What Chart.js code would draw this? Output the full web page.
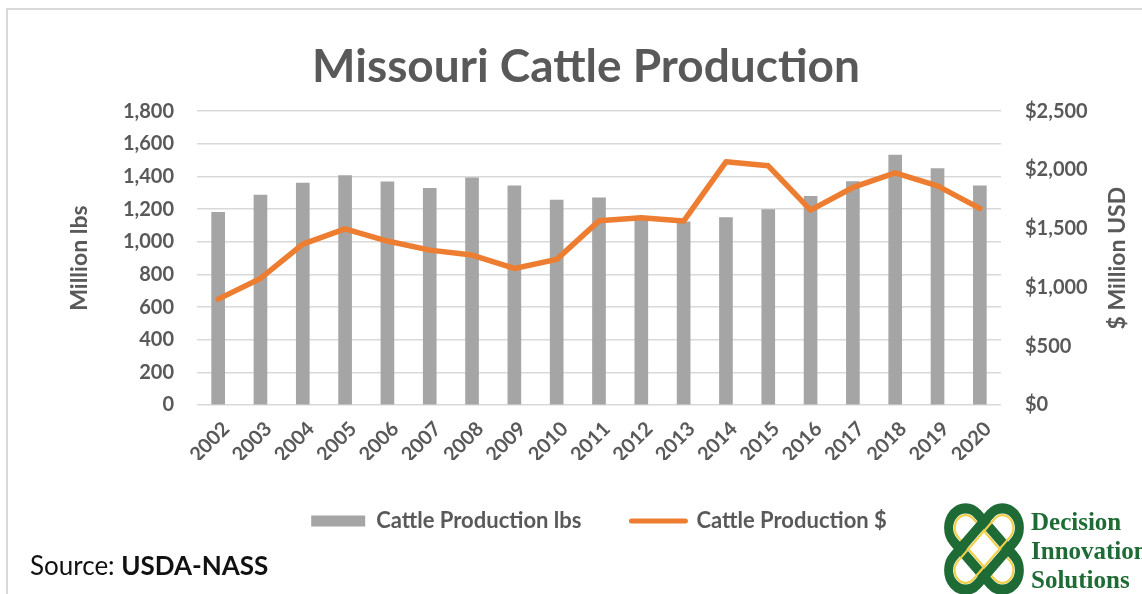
<!DOCTYPE html>
<html>
<head>
<meta charset="utf-8">
<title>Missouri Cattle Production</title>
<script src="https://cdn.jsdelivr.net/npm/chart.js@4.4.1/dist/chart.umd.min.js"></script>
<style>
    html, body { margin: 0; padding: 0; background: #fff; }
    #wrap { position: relative; width: 1142px; height: 594px; overflow: hidden; }
    #frame { position: absolute; left: 6px; top: 8px; right: -10px; bottom: -10px;
             border-left: 2px solid #d9d9d9; border-top: 2px solid #d9d9d9; }
    canvas { position: absolute; left: 0; top: 0; }
</style>
</head>
<body>
<div id="wrap">
    <div id="frame"></div>
    <canvas id="cattleChart" width="1142" height="594"></canvas>
</div>
<script>
// Chart data
const years = ['2002', '2003', '2004', '2005', '2006', '2007', '2008', '2009', '2010', '2011',
               '2012', '2013', '2014', '2015', '2016', '2017', '2018', '2019', '2020'];
const cattleLbs = [1180, 1286, 1359, 1406, 1367, 1327, 1392, 1343, 1255, 1269,
                   1151, 1122, 1149, 1198, 1278, 1369, 1531, 1449, 1343];
const cattleUsd = [901, 1077, 1369, 1499, 1395, 1318, 1276, 1162, 1239, 1567,
                   1593, 1565, 2069, 2035, 1658, 1851, 1976, 1865, 1673];
const lbsTicks = [0, 200, 400, 600, 800, 1000, 1200, 1400, 1600, 1800];
const usdTicks = [0, 500, 1000, 1500, 2000, 2500];

const textGray = '#595959';
const fontFamily = 'Lato, "Open Sans", sans-serif';

function withCommas(v) {
    return String(v).replace(/\B(?=(\d{3})+(?!\d))/g, ',');
}

// Right axis title (reads bottom to top), source note and logo
const extrasPlugin = {
    id: 'extras',
    afterDraw(chart) {
        const ctx = chart.ctx;
        const area = chart.chartArea;

        ctx.save();
        ctx.translate(1118, (area.top + area.bottom) / 2);
        ctx.rotate(-Math.PI / 2);
        ctx.font = 'bold 23px ' + fontFamily;
        ctx.fillStyle = textGray;
        ctx.textAlign = 'center';
        ctx.textBaseline = 'middle';
        ctx.fillText('$ Million USD', 0, 0);
        ctx.restore();

        // Source line
        ctx.save();
        ctx.textBaseline = 'alphabetic';
        ctx.fillStyle = '#111';
        ctx.font = '26px ' + fontFamily;
        const lead = 'Source: ';
        ctx.fillText(lead, 30, 575);
        const w = ctx.measureText(lead).width;
        ctx.font = 'bold 26px ' + fontFamily;
        ctx.fillText('USDA-NASS', 30 + w, 575);
        ctx.restore();

        // Logo knot
        ctx.save();
        ctx.translate(984, 549);
        ctx.scale(1, 1.15);
        [Math.PI / 4, -Math.PI / 4].forEach(angle => {
            ctx.save();
            ctx.rotate(angle);
            ctx.strokeStyle = '#1e6b35';
            ctx.lineWidth = 9;
            ctx.beginPath();
            ctx.roundRect(-43, -17, 86, 34, 17);
            ctx.stroke();
            ctx.strokeStyle = '#f0cf4a';
            ctx.lineWidth = 2;
            ctx.beginPath();
            ctx.roundRect(-37, -11, 74, 22, 11);
            ctx.stroke();
            ctx.restore();
        });
        ctx.restore();

        ctx.save();
        ctx.fillStyle = '#1e6b35';
        ctx.font = 'bold 25px "Liberation Serif", "DejaVu Serif", serif';
        ctx.textBaseline = 'alphabetic';
        ctx.fillText('Decision', 1031, 530);
        ctx.fillText('Innovation', 1031, 559);
        ctx.fillText('Solutions', 1031, 588);
        ctx.restore();
    }
};

const ctx = document.getElementById('cattleChart');
new Chart(ctx, {
    data: {
        labels: years,
        datasets: [{
            type: 'bar',
            label: 'Cattle Production lbs',
            data: cattleLbs,
            yAxisID: 'yLbs',
            backgroundColor: '#a5a5a5',
            barThickness: 13,
            order: 2
        }, {
            type: 'line',
            label: 'Cattle Production $',
            data: cattleUsd,
            yAxisID: 'yUsd',
            borderColor: '#ed7d31',
            backgroundColor: '#ed7d31',
            borderWidth: 5.5,
            borderCapStyle: 'round',
            borderJoinStyle: 'round',
            pointRadius: 0,
            tension: 0,
            order: 1
        }]
    },
    options: {
        responsive: false,
        animation: false,
        devicePixelRatio: 1,
        layout: {
            padding: { left: 30, right: 0, top: 0, bottom: 52 }
        },
        plugins: {
            title: {
                display: true,
                text: 'Missouri Cattle Production',
                color: textGray,
                font: { family: fontFamily, size: 46, weight: 'bold', lineHeight: 1.2 },
                padding: { top: 40, bottom: 16 }
            },
            legend: {
                position: 'bottom',
                fullSize: false,
                labels: {
                    usePointStyle: true,
                    pointStyleWidth: 54,
                    boxHeight: 11,
                    padding: 50,
                    color: textGray,
                    font: { family: fontFamily, size: 22, weight: 'bold' },
                    sort: (a, b) => a.datasetIndex - b.datasetIndex,
                    generateLabels: chart => chart.data.datasets.map((ds, i) => ({
                        text: ds.label,
                        datasetIndex: i,
                        fillStyle: ds.backgroundColor,
                        strokeStyle: ds.type === 'line' ? ds.borderColor : ds.backgroundColor,
                        lineWidth: ds.type === 'line' ? 5 : 0,
                        lineCap: 'round',
                        pointStyle: ds.type === 'line' ? 'line' : 'rect',
                        fontColor: textGray,
                        hidden: false
                    }))
                }
            },
            tooltip: { enabled: false }
        },
        scales: {
            x: {
                grid: { display: false },
                border: { display: false },
                ticks: {
                    color: textGray,
                    font: { family: fontFamily, size: 20, weight: 'bold' },
                    minRotation: 45,
                    maxRotation: 45,
                    labelOffset: 8,
                    padding: 4
                },
                afterFit: scale => { scale.height = 55; }
            },
            yLbs: {
                position: 'left',
                min: 0,
                max: 1800,
                afterBuildTicks: axis => { axis.ticks = lbsTicks.map(v => ({ value: v })); },
                grid: { color: '#d9d9d9', lineWidth: 1.5, drawTicks: false },
                border: { display: false },
                ticks: {
                    color: textGray,
                    font: { family: fontFamily, size: 20, weight: 'bold' },
                    padding: 23,
                    callback: v => withCommas(v)
                },
                title: {
                    display: true,
                    text: 'Million lbs',
                    color: textGray,
                    font: { family: fontFamily, size: 23, weight: 'bold' },
                    padding: { top: 36, bottom: 0 }
                },
                afterFit: scale => { scale.width = 167; }
            },
            yUsd: {
                position: 'right',
                min: 0,
                max: 2500,
                afterBuildTicks: axis => { axis.ticks = usdTicks.map(v => ({ value: v })); },
                grid: { display: false, drawTicks: false },
                border: { display: false },
                ticks: {
                    color: textGray,
                    font: { family: fontFamily, size: 20, weight: 'bold' },
                    padding: 24,
                    callback: v => '$' + withCommas(v)
                },
                afterFit: scale => { scale.width = 141; }
            }
        }
    },
    plugins: [extrasPlugin]
});
</script>
</body>
</html>
